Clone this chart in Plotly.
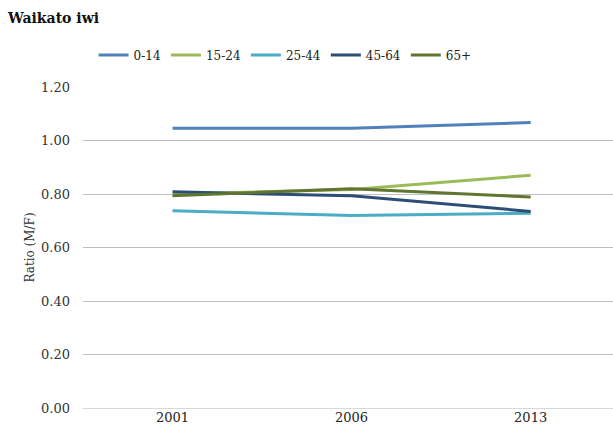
import plotly.graph_objects as go

# Census years and male/female ratio by age group
years = ["2001", "2006", "2013"]
age_0_14 = [1.046, 1.046, 1.067]
age_15_24 = [0.800, 0.817, 0.870]
age_25_44 = [0.737, 0.720, 0.728]
age_45_64 = [0.808, 0.793, 0.735]
age_65_plus = [0.793, 0.820, 0.789]

series = [
    ("0-14", age_0_14, "#4F81BD"),
    ("15-24", age_15_24, "#9BBB59"),
    ("25-44", age_25_44, "#4BACC6"),
    ("45-64", age_45_64, "#2C4D75"),
    ("65+", age_65_plus, "#5F7530"),
]

font_family = "DejaVu Serif"

fig = go.Figure()
for name, vals, color in series:
    fig.add_trace(go.Scatter(
        x=years, y=vals, name=name, mode="lines",
        line=dict(color=color, width=3),
    ))

fig.update_layout(
    width=613, height=436,
    margin=dict(l=83, r=0, t=87, b=28),
    paper_bgcolor="white", plot_bgcolor="white",
    font=dict(family=font_family, size=13, color="#333333"),
    title=dict(text="<b>Waikato iwi</b>", x=0.013, xanchor="left",
               y=0.958, yanchor="middle",
               font=dict(family=font_family, size=14, color="#111111")),
    legend=dict(orientation="h", x=0.02, xanchor="left", y=1.1,
                yanchor="middle",
                font=dict(family=font_family, size=12, color="#222222"),
                itemwidth=30, tracegroupgap=0),
    showlegend=True,
)

fig.update_xaxes(
    type="category", range=[-0.5, 2.46],
    showgrid=False, zeroline=False, showline=False,
    ticks="", tickfont=dict(family=font_family, size=13, color="#222222"),
)
fig.update_yaxes(
    range=[0, 1.2], dtick=0.2, tickformat=".2f",
    showgrid=True, gridcolor="#BFBFBF", gridwidth=1,
    zeroline=True, zerolinecolor="#D9D9D9", zerolinewidth=1,
    showline=False, ticks="", ticklabelstandoff=12,
    tickfont=dict(family=font_family, size=13, color="#333333"),
    title=dict(text="Ratio (M/F)",
               font=dict(family=font_family, size=12, color="#333333"),
               standoff=3),
)

fig.write_html("out.html")
